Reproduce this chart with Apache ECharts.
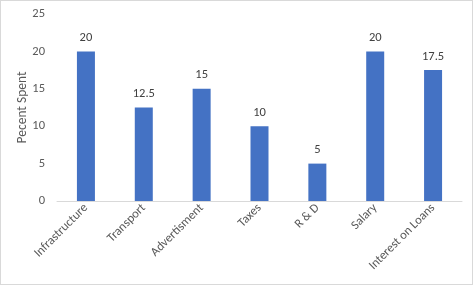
<!DOCTYPE html>
<html><head><meta charset="utf-8">
<script src="https://cdn.jsdelivr.net/npm/echarts@6/dist/echarts.min.js"></script>
<style>html,body{margin:0;padding:0;background:#fff;}#c{width:473px;height:285px;box-sizing:border-box;border:1px solid #d9d9d9;}</style>
</head><body><div id="c"></div>
<script>
const categories = ["Infrastructure","Transport","Advertisment","Taxes","R & D","Salary","Interest on Loans"];
const values = [20,12.5,15,10,5,20,17.5];
const font = 'Carlito, Calibri, "Liberation Sans", sans-serif';
const chart = echarts.init(document.getElementById('c'));
chart.setOption({
  animation:false,
  grid:{left:56,right:10,top:13,bottom:83,containLabel:false},
  xAxis:{type:'category',data:categories,
    axisLine:{lineStyle:{color:'#d9d9d9'}},axisTick:{show:false},
    axisLabel:{rotate:45,color:'#595959',fontSize:12.5,fontFamily:font,margin:5,interval:0}},
  yAxis:{type:'value',min:0,max:25,interval:5,
    name:'Pecent Spent',nameLocation:'middle',nameGap:27,nameRotate:90,nameMoveOverlap:false,
    nameTextStyle:{color:'#595959',fontSize:13.5,fontFamily:font},
    splitLine:{show:false},axisLine:{show:false},axisTick:{show:false},
    axisLabel:{color:'#595959',fontSize:12.5,margin:12,fontFamily:font}},
  series:[{type:'bar',data:values,barWidth:18,itemStyle:{color:'#4472C4'},
    label:{show:true,position:'top',distance:7,color:'#404040',fontSize:12.5,fontFamily:font}}]
});
</script></body></html>
